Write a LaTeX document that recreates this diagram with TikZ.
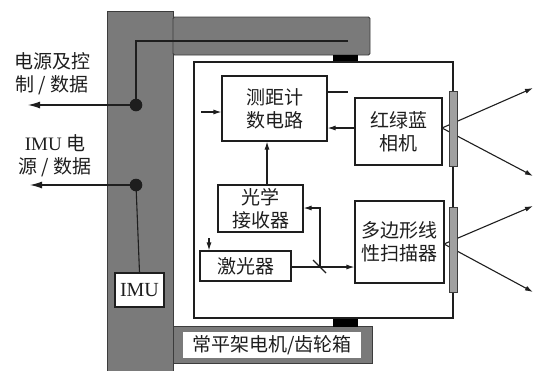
\documentclass[tikz,border=0pt]{standalone}
\usepackage{fontspec}
\setmainfont{Liberation Serif}
\newfontfamily\cjk{Noto Sans CJK SC}
\usetikzlibrary{arrows.meta}
\definecolor{barfill}{RGB}{122,122,122}
\definecolor{barline}{RGB}{60,60,60}
\definecolor{winfill}{RGB}{160,160,160}
\definecolor{ink}{RGB}{30,30,30}
\begin{document}
\begin{tikzpicture}[x=1pt,y=-1pt,
  every node/.style={font=\fontsize{19}{23}\selectfont\cjk, text=ink},
  box/.style={draw=ink, line width=1.1pt, fill=white, inner sep=0pt, align=center},
  wire/.style={draw=ink, line width=1.1pt},
  arr/.style={wire, -{Latex[length=8pt,width=5pt]}},
  bigarr/.style={wire, -{Latex[length=12pt,width=7pt]}},
  bar/.style={fill=barfill, draw=barline, line width=0.9pt},
  win/.style={fill=winfill, draw=barline, line width=0.9pt},
  pad/.style={fill=black, draw=black}]
\useasboundingbox (0,0) rectangle (534,370);
% gimbal frame
\draw[bar] (107,11) rectangle (173,372);
\draw[bar, rounded corners=1.5pt] (173,17) rectangle (370,55);
\draw[bar] (173,326) rectangle (372,363);
\fill[white] (183,332) rectangle (361,358);
\node (motor) at (272,345) {常平架电机/齿轮箱};
% pads
\draw[pad] (333,55) rectangle (357,62);
\draw[pad] (333,318) rectangle (357,326);
% inner housing
\draw[wire] (194,62) rectangle (453,318);
% rays (drawn before windows)
\coordinate (camo) at (442,128);
\coordinate (cr1) at (533,88);
\coordinate (cr2) at (533,176);
\coordinate (sco) at (444,244);
\coordinate (sr1) at (533,206);
\coordinate (sr2) at (533,292);
\draw[arr] (camo) -- (cr1);
\draw[arr] (camo) -- (cr2);
\draw[arr] (sco) -- (sr1);
\draw[arr] (sco) -- (sr2);
% windows
\draw[win] (449,91) rectangle (457,166);
\draw[win] (449,207) rectangle (457,292);
% boxes
\node[box, minimum width=105pt, minimum height=65pt] (rng) at (274.5,108.5) {测距计\\数电路};
\node[box, minimum width=87pt, minimum height=67pt] (cam) at (398.5,131.5) {红绿蓝\\相机};
\node[box, minimum width=85pt, minimum height=47pt] (rcv) at (260.5,208.5) {光学\\接收器};
\node[box, minimum width=91pt, minimum height=30pt] (las) at (245.5,266) {激光器};
\node[box, minimum width=89pt, minimum height=82pt] (scan) at (399.5,242) {多边形线\\性扫描器};
\node[box, minimum width=49pt, minimum height=34pt, font=\fontsize{20}{23}\selectfont\rmfamily] (imu) at (139.5,290) {IMU};
% internal connectors
\coordinate (rngin) at (201,112);
\draw[arr] (rngin) -- (rngin -| rng.west);
\coordinate (rngout) at (348,92);
\draw[wire] (rngout -| rng.east) -- (rngout);
\coordinate (cy) at (0,128);
\draw[arr] (cy -| cam.west) -- (cy -| rng.east);
\coordinate (rx) at (267,0);
\draw[arr] (rx |- rcv.north) -- (rx |- rng.south);
\coordinate (lin) at (209,238);
\draw[arr] (lin) -- (lin |- las.north);
\coordinate (bs) at (320,267);
\draw[arr] (bs -| las.east) -- (bs -| scan.west);
\draw[wire] ([shift={(-7,-7)}]bs) -- ([shift={(6,6)}]bs);
\coordinate (bt) at (320,208);
\draw[arr] (bs) -- (bt) -- (bt -| rcv.east);
% cables in frame
\coordinate (d1) at (136,105);
\coordinate (d2) at (136,185);
\coordinate (ct) at (348,41);
\coordinate (o1) at (28,105);
\coordinate (o2) at (30,185);
\draw[wire] (ct) -- (ct -| d1) -- (d1);
\draw[wire] (d2) -- (imu.north);
\draw[bigarr] (d1) -- (o1);
\draw[bigarr] (d2) -- (o2);
\fill[ink] (d1) circle (6.3);
\fill[ink] (d2) circle (6.3);
% labels
\node[align=center] (l1) at (52,73.5) {电源及控\\制 / 数据};
\node[align=center] (l2) at (55,156) {{\rmfamily IMU}~电\\源 / 数据};
\end{tikzpicture}
\end{document}
